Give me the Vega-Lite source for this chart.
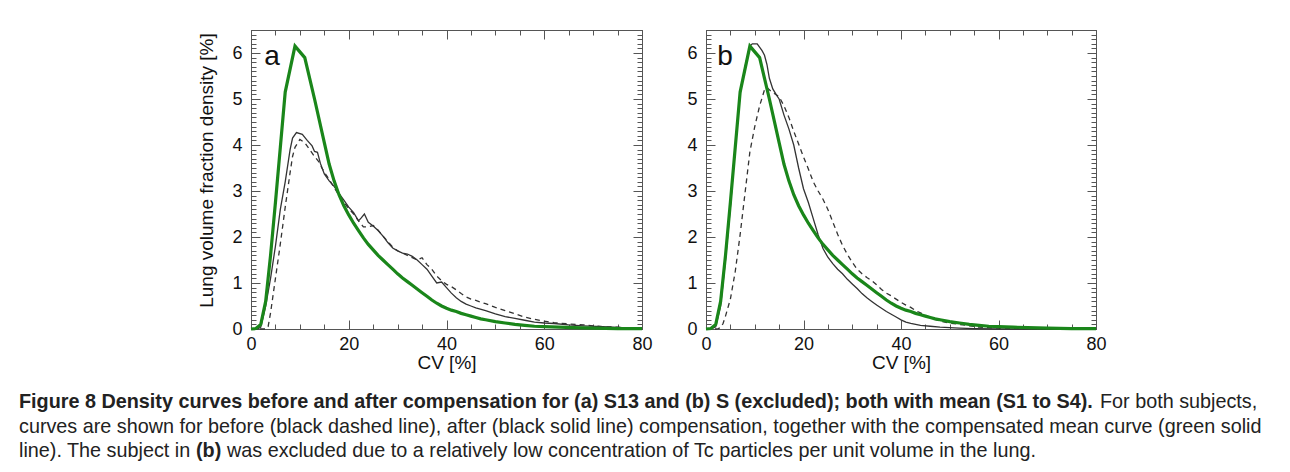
{
  "$schema": "https://vega.github.io/schema/vega-lite/v6.json",
  "background": "white",
  "padding": {"left": 18, "top": 29, "right": 0, "bottom": 0},
  "bounds": "flush",
  "spacing": 64,
  "config": {
    "view": {"stroke": "#555", "strokeWidth": 1},
    "font": "Liberation Sans",
    "axis": {"grid": false, "domain": false, "tickColor": "#555", "tickWidth": 1, "labelFont": "Liberation Sans", "labelFontSize": 18, "labelColor": "#111", "labelFlush": false, "labelOverlap": false, "titleFont": "Liberation Sans", "titleFontSize": 19, "titleFontWeight": "normal", "titleColor": "#111"}
  },
  "datasets": {
    "mean": [
      {"cv":0,"d":0},{"cv":1,"d":0.01},{"cv":2,"d":0.1},{"cv":3,"d":0.6},{"cv":4,"d":1.6},{"cv":5,"d":2.75},{"cv":6,"d":3.95},{"cv":7,"d":5.15},{"cv":9,"d":6.15},{"cv":11,"d":5.9},{"cv":13,"d":5.0},{"cv":15,"d":4.05},{"cv":16,"d":3.58},{"cv":17,"d":3.22},{"cv":18,"d":2.92},{"cv":19,"d":2.68},{"cv":20,"d":2.48},{"cv":21,"d":2.3},{"cv":22,"d":2.14},{"cv":23,"d":1.98},{"cv":24,"d":1.84},{"cv":25,"d":1.72},{"cv":26,"d":1.6},{"cv":27,"d":1.5},{"cv":28,"d":1.4},{"cv":29,"d":1.3},{"cv":30,"d":1.2},{"cv":31,"d":1.11},{"cv":32,"d":1.03},{"cv":33,"d":0.95},{"cv":34,"d":0.87},{"cv":35,"d":0.79},{"cv":36,"d":0.71},{"cv":37,"d":0.63},{"cv":38,"d":0.56},{"cv":39,"d":0.5},{"cv":40,"d":0.45},{"cv":41,"d":0.41},{"cv":42,"d":0.38},{"cv":43,"d":0.34},{"cv":44,"d":0.31},{"cv":45,"d":0.28},{"cv":46,"d":0.25},{"cv":47,"d":0.22},{"cv":48,"d":0.2},{"cv":50,"d":0.16},{"cv":52,"d":0.13},{"cv":54,"d":0.1},{"cv":56,"d":0.08},{"cv":58,"d":0.06},{"cv":60,"d":0.05},{"cv":63,"d":0.04},{"cv":66,"d":0.03},{"cv":70,"d":0.02},{"cv":75,"d":0.01},{"cv":80,"d":0.01}
    ],
    "a_after": [
      {"cv":0,"d":0},{"cv":1,"d":0},{"cv":1.5,"d":0.01},{"cv":2,"d":0.04},{"cv":3,"d":0.5},{"cv":4,"d":1.1},{"cv":5,"d":1.8},{"cv":6,"d":2.6},{"cv":7,"d":3.2},{"cv":8,"d":3.9},{"cv":8.5,"d":4.15},{"cv":9.3,"d":4.27},{"cv":10.5,"d":4.23},{"cv":11.5,"d":4.1},{"cv":12.5,"d":3.98},{"cv":13,"d":3.86},{"cv":13.6,"d":3.84},{"cv":14.2,"d":3.6},{"cv":15,"d":3.37},{"cv":16,"d":3.22},{"cv":17,"d":3.1},{"cv":18,"d":2.95},{"cv":19,"d":2.8},{"cv":20,"d":2.65},{"cv":21,"d":2.53},{"cv":22,"d":2.35},{"cv":22.6,"d":2.42},{"cv":23.2,"d":2.5},{"cv":24,"d":2.32},{"cv":25,"d":2.24},{"cv":26,"d":2.14},{"cv":27,"d":2.02},{"cv":28,"d":1.88},{"cv":29,"d":1.76},{"cv":30,"d":1.7},{"cv":31,"d":1.65},{"cv":32,"d":1.63},{"cv":33,"d":1.58},{"cv":34,"d":1.5},{"cv":35,"d":1.4},{"cv":36,"d":1.3},{"cv":37,"d":1.15},{"cv":38,"d":1.0},{"cv":39,"d":1.02},{"cv":40,"d":0.9},{"cv":41,"d":0.78},{"cv":42,"d":0.68},{"cv":43,"d":0.6},{"cv":44,"d":0.54},{"cv":45,"d":0.5},{"cv":46,"d":0.46},{"cv":48,"d":0.4},{"cv":50,"d":0.33},{"cv":52,"d":0.27},{"cv":54,"d":0.23},{"cv":56,"d":0.19},{"cv":58,"d":0.15},{"cv":60,"d":0.13},{"cv":62,"d":0.12},{"cv":65,"d":0.09},{"cv":68,"d":0.07},{"cv":72,"d":0.05},{"cv":76,"d":0.03},{"cv":80,"d":0.02}
    ],
    "a_before": [
      {"cv":0,"d":0},{"cv":3,"d":0},{"cv":3.5,"d":0.05},{"cv":4,"d":0.35},{"cv":5,"d":1.1},{"cv":6,"d":1.85},{"cv":7,"d":2.65},{"cv":8,"d":3.4},{"cv":8.5,"d":3.75},{"cv":9,"d":3.95},{"cv":10,"d":4.12},{"cv":11,"d":4.05},{"cv":12,"d":3.9},{"cv":13,"d":3.75},{"cv":14,"d":3.62},{"cv":14.5,"d":3.5},{"cv":15.3,"d":3.36},{"cv":16,"d":3.25},{"cv":17,"d":3.08},{"cv":18,"d":2.9},{"cv":19,"d":2.75},{"cv":20,"d":2.62},{"cv":21,"d":2.5},{"cv":22,"d":2.35},{"cv":23,"d":2.22},{"cv":24,"d":2.22},{"cv":25,"d":2.25},{"cv":26,"d":2.15},{"cv":27,"d":2.02},{"cv":28,"d":1.9},{"cv":29,"d":1.78},{"cv":30,"d":1.7},{"cv":31,"d":1.65},{"cv":32,"d":1.6},{"cv":33,"d":1.55},{"cv":34,"d":1.5},{"cv":35,"d":1.55},{"cv":36,"d":1.4},{"cv":37,"d":1.3},{"cv":38,"d":1.15},{"cv":39,"d":1.05},{"cv":40,"d":0.97},{"cv":41,"d":0.92},{"cv":42,"d":0.85},{"cv":43,"d":0.77},{"cv":44,"d":0.7},{"cv":45,"d":0.65},{"cv":46,"d":0.62},{"cv":48,"d":0.55},{"cv":50,"d":0.47},{"cv":52,"d":0.4},{"cv":54,"d":0.33},{"cv":56,"d":0.26},{"cv":58,"d":0.21},{"cv":60,"d":0.17},{"cv":62,"d":0.14},{"cv":65,"d":0.11},{"cv":68,"d":0.09},{"cv":70,"d":0.07},{"cv":72,"d":0.05},{"cv":75,"d":0.04},{"cv":78,"d":0.02},{"cv":80,"d":0.01}
    ],
    "b_after": [
      {"cv":0,"d":0},{"cv":1,"d":0},{"cv":2,"d":0.05},{"cv":3,"d":0.5},{"cv":4,"d":1.5},{"cv":5,"d":2.65},{"cv":6,"d":3.95},{"cv":7,"d":5.1},{"cv":8,"d":5.7},{"cv":9,"d":6.15},{"cv":9.5,"d":6.2},{"cv":10.5,"d":6.2},{"cv":11.5,"d":6.05},{"cv":12,"d":5.95},{"cv":12.5,"d":5.75},{"cv":13,"d":5.45},{"cv":13.7,"d":5.22},{"cv":14.5,"d":5.08},{"cv":15,"d":5.0},{"cv":16,"d":4.65},{"cv":17,"d":4.35},{"cv":18,"d":4.0},{"cv":19,"d":3.5},{"cv":20,"d":3.05},{"cv":21,"d":2.75},{"cv":22,"d":2.4},{"cv":23,"d":2.05},{"cv":24,"d":1.75},{"cv":25,"d":1.56},{"cv":26,"d":1.42},{"cv":27,"d":1.3},{"cv":28,"d":1.2},{"cv":29,"d":1.08},{"cv":30,"d":0.98},{"cv":31,"d":0.88},{"cv":32,"d":0.77},{"cv":33,"d":0.68},{"cv":34,"d":0.6},{"cv":35,"d":0.52},{"cv":36,"d":0.45},{"cv":37,"d":0.38},{"cv":38,"d":0.32},{"cv":39,"d":0.26},{"cv":40,"d":0.2},{"cv":41,"d":0.15},{"cv":42,"d":0.12},{"cv":44,"d":0.08},{"cv":46,"d":0.06},{"cv":48,"d":0.04},{"cv":50,"d":0.03},{"cv":52,"d":0.02},{"cv":55,"d":0.01},{"cv":60,"d":0},{"cv":80,"d":0}
    ],
    "b_before": [
      {"cv":0,"d":0},{"cv":2,"d":0},{"cv":2.5,"d":0.01},{"cv":3,"d":0.03},{"cv":3.5,"d":0.12},{"cv":4,"d":0.28},{"cv":5,"d":0.65},{"cv":6,"d":1.25},{"cv":7,"d":2.05},{"cv":8,"d":2.95},{"cv":9,"d":3.85},{"cv":10,"d":4.4},{"cv":11,"d":4.85},{"cv":12,"d":5.2},{"cv":12.5,"d":5.25},{"cv":13.3,"d":5.17},{"cv":14,"d":5.12},{"cv":15,"d":5.05},{"cv":16,"d":4.85},{"cv":17,"d":4.6},{"cv":18,"d":4.3},{"cv":19,"d":4.02},{"cv":20,"d":3.74},{"cv":21,"d":3.48},{"cv":22,"d":3.2},{"cv":23,"d":3.0},{"cv":24,"d":2.82},{"cv":25,"d":2.6},{"cv":26,"d":2.33},{"cv":27,"d":2.06},{"cv":28,"d":1.82},{"cv":29,"d":1.62},{"cv":30,"d":1.45},{"cv":31,"d":1.3},{"cv":32,"d":1.2},{"cv":33,"d":1.12},{"cv":34,"d":1.05},{"cv":35,"d":0.96},{"cv":36,"d":0.86},{"cv":37,"d":0.78},{"cv":38,"d":0.72},{"cv":39,"d":0.65},{"cv":40,"d":0.58},{"cv":41,"d":0.52},{"cv":42,"d":0.47},{"cv":43,"d":0.4},{"cv":44,"d":0.35},{"cv":45,"d":0.3},{"cv":46,"d":0.25},{"cv":47,"d":0.21},{"cv":48,"d":0.17},{"cv":49,"d":0.15},{"cv":50,"d":0.13},{"cv":52,"d":0.1},{"cv":54,"d":0.07},{"cv":56,"d":0.04},{"cv":58,"d":0.03},{"cv":60,"d":0.02},{"cv":65,"d":0.01},{"cv":70,"d":0},{"cv":80,"d":0}
    ],
    "caption": [
      {"part":"l1b","text":"Figure 8 Density curves before and after compensation for (a) S13 and (b) S (excluded); both with mean (S1 to S4)."},
      {"part":"l1n","text":"For both subjects,"},
      {"part":"l2","text":"curves are shown for before (black dashed line), after (black solid line) compensation, together with the compensated mean curve (green solid"},
      {"part":"l3a","text":"line). The subject in"},
      {"part":"l3b","text":"(b)"},
      {"part":"l3c","text":"was excluded due to a relatively low concentration of Tc particles per unit volume in the lung."}
    ]
  },
  "hconcat": [
    {
      "width": 391, "height": 299,
      "resolve": {"axis": {"x": "independent", "y": "independent"}},
      "layer": [
        {
          "data": {"name": "a_before"},
          "mark": {"type": "line", "color": "#333", "strokeWidth": 1.3, "strokeDash": [5, 4]},
          "encoding": {
            "x": {"field": "cv", "type": "quantitative", "scale": {"domain": [0, 80], "nice": false}, "axis": {"orient": "top", "values": [0, 20, 40, 60, 80], "tickSize": -9, "labels": false, "title": null}},
            "y": {"field": "d", "type": "quantitative", "scale": {"domain": [0, 6.5], "nice": false}, "axis": {"orient": "right", "values": [0, 1, 2, 3, 4, 5, 6], "tickSize": -9, "labels": false, "title": null}}
          }
        },
        {
          "data": {"name": "a_after"},
          "mark": {"type": "line", "color": "#333", "strokeWidth": 1.3},
          "encoding": {
            "x": {"field": "cv", "type": "quantitative", "axis": {"orient": "top", "values": [0,5,10,15,20,25,30,35,40,45,50,55,60,65,70,75,80], "tickSize": -5, "labels": false, "title": null}},
            "y": {"field": "d", "type": "quantitative", "axis": {"orient": "right", "tickCount": 65, "tickSize": -5, "labels": false, "title": null}}
          }
        },
        {
          "data": {"name": "mean"},
          "mark": {"type": "line", "color": "#1a861a", "strokeWidth": 3.2},
          "encoding": {
            "x": {"field": "cv", "type": "quantitative", "axis": {"orient": "bottom", "values": [0, 20, 40, 60, 80], "tickSize": -9, "labelPadding": 15, "title": "CV [%]", "titlePadding": 0}},
            "y": {"field": "d", "type": "quantitative", "axis": {"orient": "left", "values": [0, 1, 2, 3, 4, 5, 6], "tickSize": -9, "labelPadding": 18, "title": "Lung volume fraction density [%]", "titlePadding": 15, "titleY": 140}}
          }
        },
        {
          "data": {"values": [{}]},
          "mark": {"type": "text", "text": "a", "fontSize": 28, "align": "left", "baseline": "alphabetic", "font": "Liberation Sans", "color": "#111"},
          "encoding": {
            "x": {"datum": 2.7, "type": "quantitative", "axis": {"orient": "bottom", "values": [0,5,10,15,20,25,30,35,40,45,50,55,60,65,70,75,80], "tickSize": -5, "labels": false, "title": null}},
            "y": {"datum": 5.74, "type": "quantitative", "axis": {"orient": "left", "tickCount": 65, "tickSize": -5, "labels": false, "title": null}}
          }
        },
        {"data": {"name": "caption"}, "transform": [{"filter": "datum.part == 'l1b'"}], "mark": {"type": "text", "align": "left", "baseline": "alphabetic", "font": "Liberation Sans", "fontSize": 19.8, "fontWeight": "bold", "color": "#222", "x": -232, "y": 378}, "encoding": {"text": {"field": "text"}}},
        {"data": {"name": "caption"}, "transform": [{"filter": "datum.part == 'l1n'"}], "mark": {"type": "text", "align": "left", "baseline": "alphabetic", "font": "Liberation Sans", "fontSize": 19.8, "color": "#222", "x": 849, "y": 378}, "encoding": {"text": {"field": "text"}}},
        {"data": {"name": "caption"}, "transform": [{"filter": "datum.part == 'l2'"}], "mark": {"type": "text", "align": "left", "baseline": "alphabetic", "font": "Liberation Sans", "fontSize": 19.8, "color": "#222", "x": -232, "y": 403}, "encoding": {"text": {"field": "text"}}},
        {"data": {"name": "caption"}, "transform": [{"filter": "datum.part == 'l3a'"}], "mark": {"type": "text", "align": "left", "baseline": "alphabetic", "font": "Liberation Sans", "fontSize": 19.8, "color": "#222", "x": -232, "y": 427}, "encoding": {"text": {"field": "text"}}},
        {"data": {"name": "caption"}, "transform": [{"filter": "datum.part == 'l3b'"}], "mark": {"type": "text", "align": "left", "baseline": "alphabetic", "font": "Liberation Sans", "fontSize": 19.8, "fontWeight": "bold", "color": "#222", "x": -55, "y": 427}, "encoding": {"text": {"field": "text"}}},
        {"data": {"name": "caption"}, "transform": [{"filter": "datum.part == 'l3c'"}], "mark": {"type": "text", "align": "left", "baseline": "alphabetic", "font": "Liberation Sans", "fontSize": 19.8, "color": "#222", "x": -24, "y": 427}, "encoding": {"text": {"field": "text"}}}
      ]
    },
    {
      "width": 390, "height": 299,
      "resolve": {"axis": {"x": "independent", "y": "independent"}},
      "layer": [
        {
          "data": {"name": "b_before"},
          "mark": {"type": "line", "color": "#333", "strokeWidth": 1.3, "strokeDash": [5, 4]},
          "encoding": {
            "x": {"field": "cv", "type": "quantitative", "scale": {"domain": [0, 80], "nice": false}, "axis": {"orient": "top", "values": [0, 20, 40, 60, 80], "tickSize": -9, "labels": false, "title": null}},
            "y": {"field": "d", "type": "quantitative", "scale": {"domain": [0, 6.5], "nice": false}, "axis": {"orient": "right", "values": [0, 1, 2, 3, 4, 5, 6], "tickSize": -9, "labels": false, "title": null}}
          }
        },
        {
          "data": {"name": "b_after"},
          "mark": {"type": "line", "color": "#333", "strokeWidth": 1.3},
          "encoding": {
            "x": {"field": "cv", "type": "quantitative", "axis": {"orient": "top", "values": [0,5,10,15,20,25,30,35,40,45,50,55,60,65,70,75,80], "tickSize": -5, "labels": false, "title": null}},
            "y": {"field": "d", "type": "quantitative", "axis": {"orient": "right", "tickCount": 65, "tickSize": -5, "labels": false, "title": null}}
          }
        },
        {
          "data": {"name": "mean"},
          "mark": {"type": "line", "color": "#1a861a", "strokeWidth": 3.2},
          "encoding": {
            "x": {"field": "cv", "type": "quantitative", "axis": {"orient": "bottom", "values": [0, 20, 40, 60, 80], "tickSize": -9, "labelPadding": 15, "title": "CV [%]", "titlePadding": 0}},
            "y": {"field": "d", "type": "quantitative", "axis": {"orient": "left", "values": [0, 1, 2, 3, 4, 5, 6], "tickSize": -9, "labelPadding": 18, "title": null}}
          }
        },
        {
          "data": {"values": [{}]},
          "mark": {"type": "text", "text": "b", "fontSize": 28, "align": "left", "baseline": "alphabetic", "font": "Liberation Sans", "color": "#111"},
          "encoding": {
            "x": {"datum": 2.3, "type": "quantitative", "axis": {"orient": "bottom", "values": [0,5,10,15,20,25,30,35,40,45,50,55,60,65,70,75,80], "tickSize": -5, "labels": false, "title": null}},
            "y": {"datum": 5.74, "type": "quantitative", "axis": {"orient": "left", "tickCount": 65, "tickSize": -5, "labels": false, "title": null}}
          }
        }
      ]
    }
  ]
}
